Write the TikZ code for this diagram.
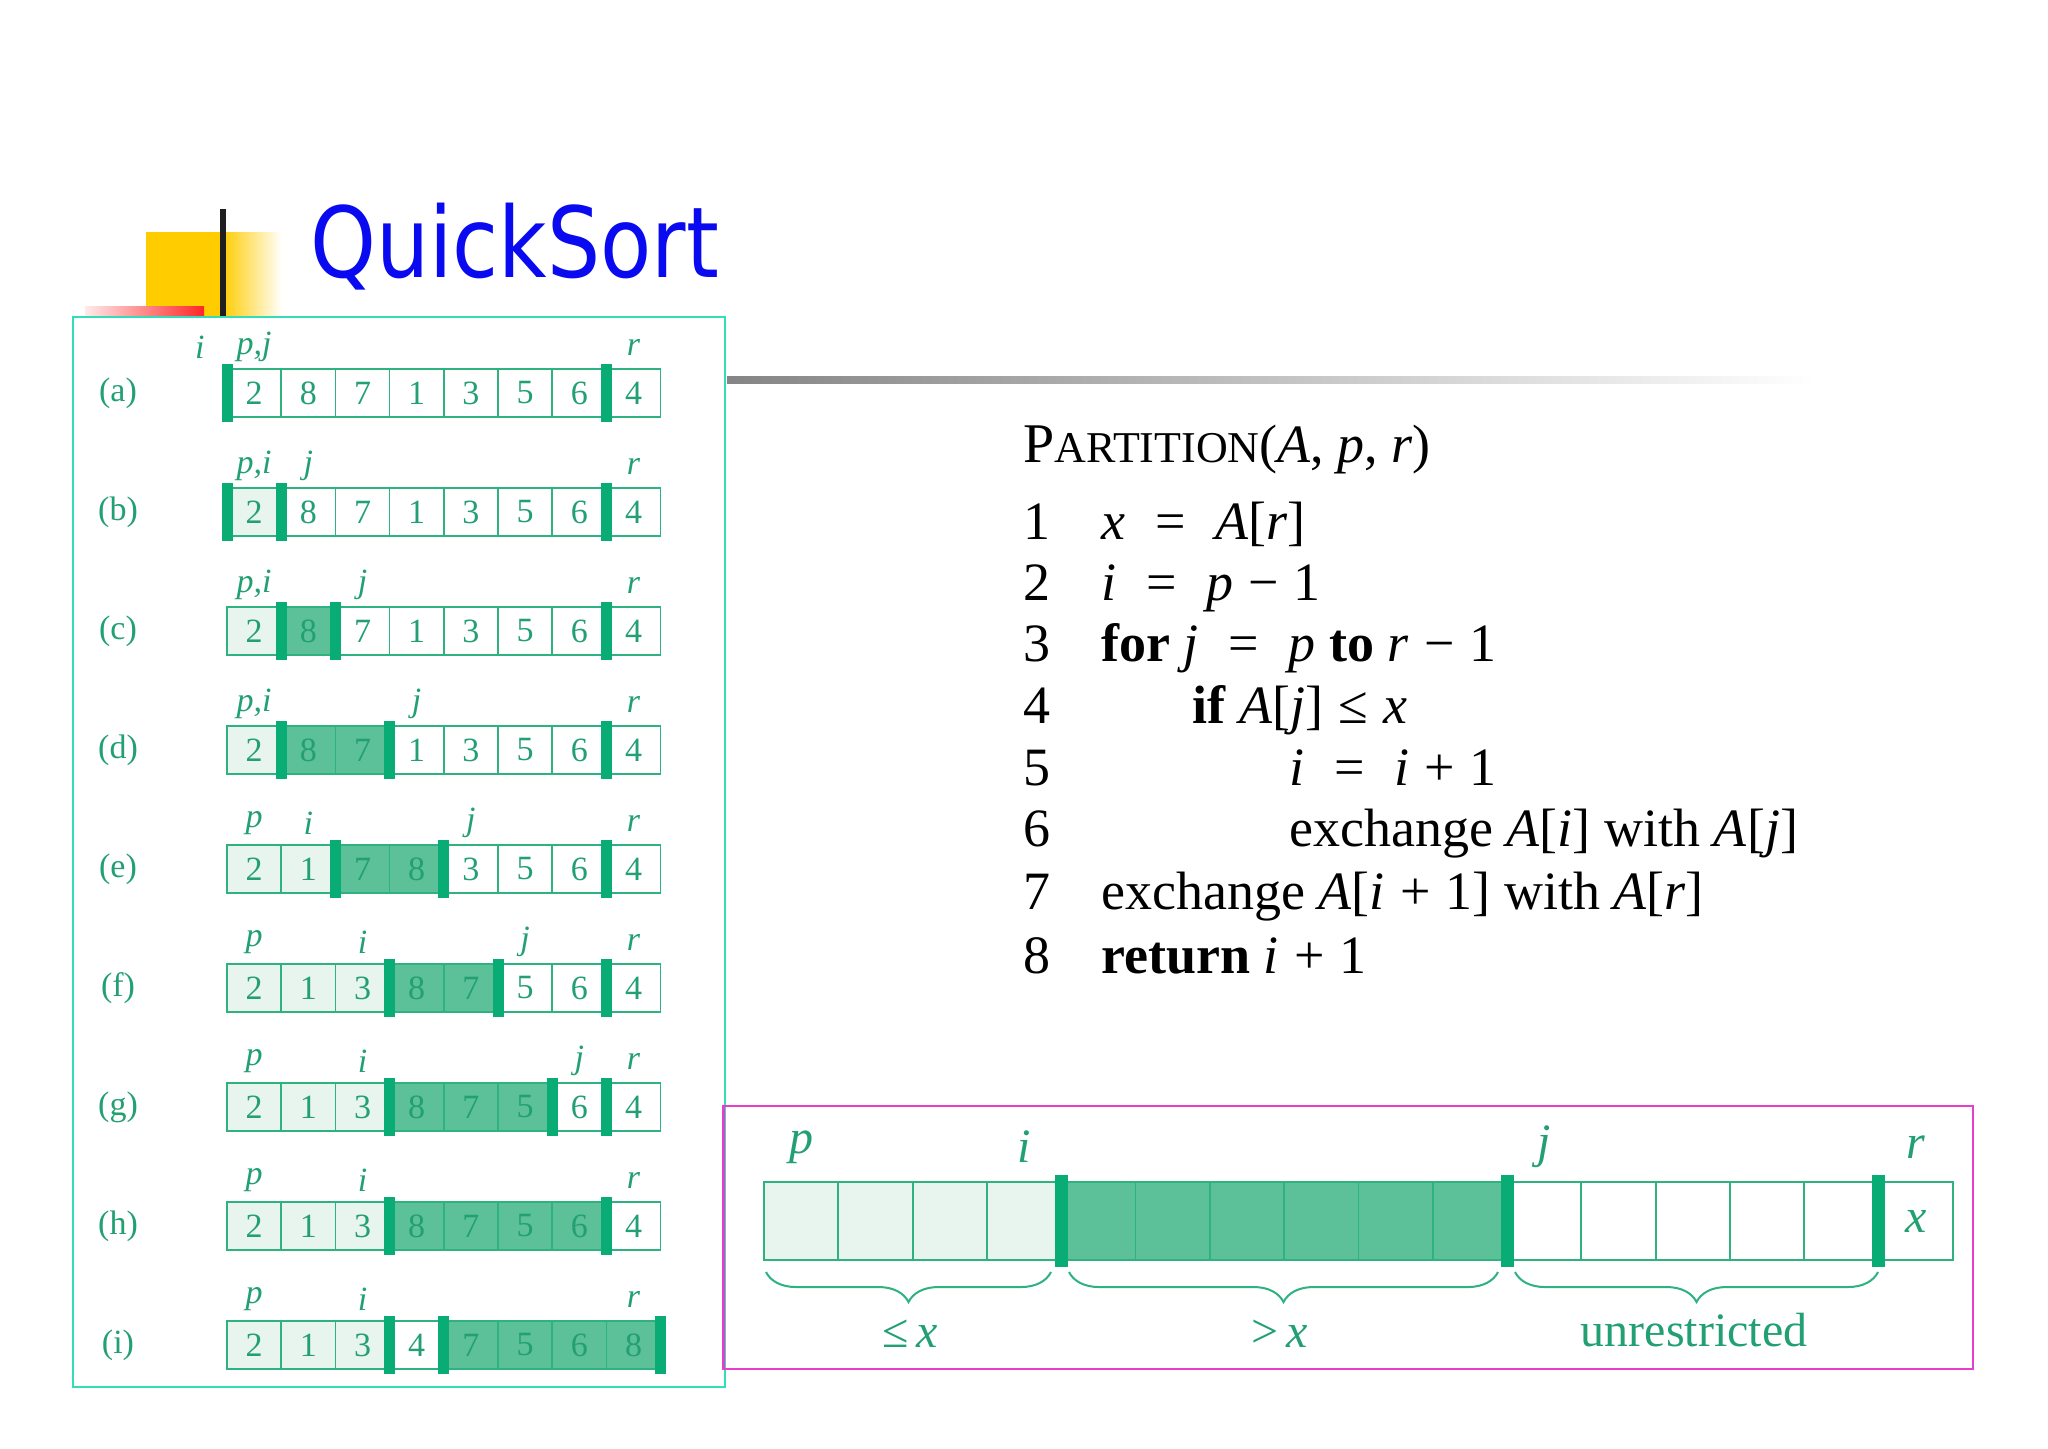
\documentclass[tikz,border=0pt]{standalone}
\usepackage{fontspec}
\setmainfont{Liberation Serif}
\newfontfamily\titlefont{DejaVu Sans}
\usetikzlibrary{decorations.pathreplacing,calc}
\definecolor{tgreen}{RGB}{10,172,118}
\definecolor{tline}{RGB}{45,178,128}
\definecolor{cL}{RGB}{232,244,238}
\definecolor{cD}{RGB}{92,192,152}
\definecolor{cW}{RGB}{255,255,255}
\definecolor{textgreen}{RGB}{35,160,115}
\definecolor{panelborder}{RGB}{50,222,185}
\definecolor{magborder}{RGB}{232,62,205}
\definecolor{titleblue}{RGB}{10,10,240}
\definecolor{qyellow}{RGB}{255,204,0}
\newcommand\msp{\hspace{0.28em}}
\newcommand\eqsp{\hspace{0.55em}}
\newcommand\qrow[5]{%
  \pgfmathsetmacro\yc{393+119*#1}
  \node[rowlab] (lab-#2) at (118,\yc) {(#2)};
  \foreach \v/\f [count=\k from 0] in {#3} {
    \node[qcell=\f] (c-#2-\k) at ({254.1+54.2*\k},\yc) {\v};
  }
  \foreach \b in {#4} {
    \node[qbar] (b-#2-\b) at ({227+54.2*\b},\yc) {};
  }
  \foreach \p/\t in {#5} {
    \node[ptr] (p-#2-\p) at ({254.1+54.2*\p},{\yc-46}) {\t};
  }
}
\begin{document}
\begin{tikzpicture}[x=0.5pt,y=-0.5pt,
  qcell/.style={draw=tline, line width=0.8pt, fill=#1, minimum width=27.1pt, minimum height=24pt, inner sep=0pt, text=textgreen, font=\fontsize{17}{17}\selectfont},
  qbar/.style={fill=tgreen, draw=none, minimum width=5.5pt, minimum height=29pt, inner sep=0pt},
  ptr/.style={text=textgreen, font=\fontsize{17}{17}\selectfont\itshape, inner sep=0pt},
  rowlab/.style={text=textgreen, font=\fontsize{17}{17}\selectfont, inner sep=0pt},
  bigcell/.style={draw=tline, line width=0.9pt, fill=#1, minimum width=37.15pt, minimum height=39pt, inner sep=0pt, text=textgreen, font=\fontsize{24}{24}\selectfont\itshape},
  bigbar/.style={fill=tgreen, draw=none, minimum width=6.5pt, minimum height=46pt, inner sep=0pt},
  bigptr/.style={text=textgreen, font=\fontsize{24}{24}\selectfont\itshape, inner sep=0pt},
  bracelab/.style={text=textgreen, font=\fontsize{24}{24}\selectfont, inner sep=0pt},
  qbrace/.style={draw=tline, line width=1pt, decorate, decoration={brace, mirror, amplitude=15pt}},
  code/.style={anchor=base west, inner sep=0pt, font=\fontsize{27}{27}\selectfont}
]
\useasboundingbox (0,0) rectangle (2048,1448);
\fill[white] (0,0) rectangle (2048,1448);

% title decoration
\fill[qyellow] (146,232) rectangle (222,317);
\shade[left color=qyellow, right color=white] (222,232) rectangle (282,317);
\shade[left color=red!8, right color=red!85] (85,306) rectangle (204,317);
\fill[black!88] (220,209) rectangle (226,317);
\node[anchor=base west, text=titleblue, font=\titlefont\fontsize{49}{49}\selectfont, xscale=0.855, inner sep=0pt] (title) at (310,277) {QuickSort};

% gray rule
\shade[left color=black!48, right color=white] (727,376) rectangle (1815,383);

% left panel
\draw[panelborder, line width=1.3pt] (73,317) rectangle (725,1387);

\qrow{0}{a}{2/cW,8/cW,7/cW,1/cW,3/cW,5/cW,6/cW,4/cW}{0,7}{-1/i,0/{p,j},7/r}
\qrow{1}{b}{2/cL,8/cW,7/cW,1/cW,3/cW,5/cW,6/cW,4/cW}{0,1,7}{0/{p,i},1/j,7/r}
\qrow{2}{c}{2/cL,8/cD,7/cW,1/cW,3/cW,5/cW,6/cW,4/cW}{1,2,7}{0/{p,i},2/j,7/r}
\qrow{3}{d}{2/cL,8/cD,7/cD,1/cW,3/cW,5/cW,6/cW,4/cW}{1,3,7}{0/{p,i},3/j,7/r}
\qrow{4}{e}{2/cL,1/cL,7/cD,8/cD,3/cW,5/cW,6/cW,4/cW}{2,4,7}{0/p,1/i,4/j,7/r}
\qrow{5}{f}{2/cL,1/cL,3/cL,8/cD,7/cD,5/cW,6/cW,4/cW}{3,5,7}{0/p,2/i,5/j,7/r}
\qrow{6}{g}{2/cL,1/cL,3/cL,8/cD,7/cD,5/cD,6/cW,4/cW}{3,6,7}{0/p,2/i,6/j,7/r}
\qrow{7}{h}{2/cL,1/cL,3/cL,8/cD,7/cD,5/cD,6/cD,4/cW}{3,7}{0/p,2/i,7/r}
\qrow{8}{i}{2/cL,1/cL,3/cL,4/cW,7/cD,5/cD,6/cD,8/cD}{3,4,8}{0/p,2/i,7/r}

% pseudocode
\node[code] (hdr) at (1023,462) {{\fontsize{28}{28}\selectfont P}{\fontsize{22}{22}\selectfont ARTITION}(\textit{A}, \textit{p}, \textit{r})};
\node[code] (n1) at (1023,539) {1};
\node[code] (n2) at (1023,600) {2};
\node[code] (n3) at (1023,661) {3};
\node[code] (n4) at (1023,723) {4};
\node[code] (n5) at (1023,785) {5};
\node[code] (n6) at (1023,846) {6};
\node[code] (n7) at (1023,909) {7};
\node[code] (n8) at (1023,973) {8};
\node[code] (l1) at (1101,539) {\textit{x}\eqsp=\eqsp\textit{A}[\textit{r}]};
\node[code] (l2) at (1101,600) {\textit{i}\eqsp=\eqsp\textit{p}\msp−\msp1};
\node[code] (l3) at (1101,661) {\textbf{for} \textit{j}\eqsp=\eqsp\textit{p} \textbf{to} \textit{r}\msp−\msp1};
\node[code] (l4) at (1192,723) {\textbf{if} \textit{A}[\textit{j}]\msp≤\msp\textit{x}};
\node[code] (l5) at (1289,785) {\textit{i}\eqsp=\eqsp\textit{i}\msp+\msp1};
\node[code] (l6) at (1289,846) {exchange \textit{A}[\textit{i}] with \textit{A}[\textit{j}]};
\node[code] (l7) at (1101,909) {exchange \textit{A}[\textit{i}\msp+\msp1] with \textit{A}[\textit{r}]};
\node[code] (l8) at (1101,973) {\textbf{return} \textit{i}\msp+\msp1};

% magenta box
\draw[magborder, line width=1.1pt] (723.5,1106) rectangle (1973,1369);
\foreach \k in {0,...,3} {\node[bigcell=cL] (m-\k) at ({764+74.3*(\k+0.5)},1221) {};}
\foreach \k in {4,...,9} {\node[bigcell=cD] (m-\k) at ({764+74.3*(\k+0.5)},1221) {};}
\foreach \k in {10,...,14} {\node[bigcell=cW] (m-\k) at ({764+74.3*(\k+0.5)},1221) {};}
\node[bigcell=cW] (m-15) at ({764+74.3*15.5},1221) {x};
\foreach \b in {4,10,15} {\node[bigbar] (mb-\b) at ({764+74.3*\b},1221) {};}
\node[bigptr] (mp) at ({764+74.3*0.5},1147) {p};
\node[bigptr] (mi) at ({764+74.3*3.5},1147) {i};
\node[bigptr] (mj) at ({764+74.3*10.5},1147) {j};
\node[bigptr] (mr) at ({764+74.3*15.5},1147) {r};

\coordinate (br1a) at (766,1272);
\coordinate (br1b) at (1051,1272);
\coordinate (br2a) at (1069,1272);
\coordinate (br2b) at (1498,1272);
\coordinate (br3a) at (1515,1272);
\coordinate (br3b) at (1878,1272);
\draw[qbrace] (br1a) -- (br1b);
\draw[qbrace] (br2a) -- (br2b);
\draw[qbrace] (br3a) -- (br3b);
\node[bracelab] (le) at (910,1334) {≤\,\textit{x}};
\node[bracelab] (gt) at (1280,1334) {>\,\textit{x}};
\node[bracelab] (un) at (1694,1330) {unrestricted};
\end{tikzpicture}
\end{document}
